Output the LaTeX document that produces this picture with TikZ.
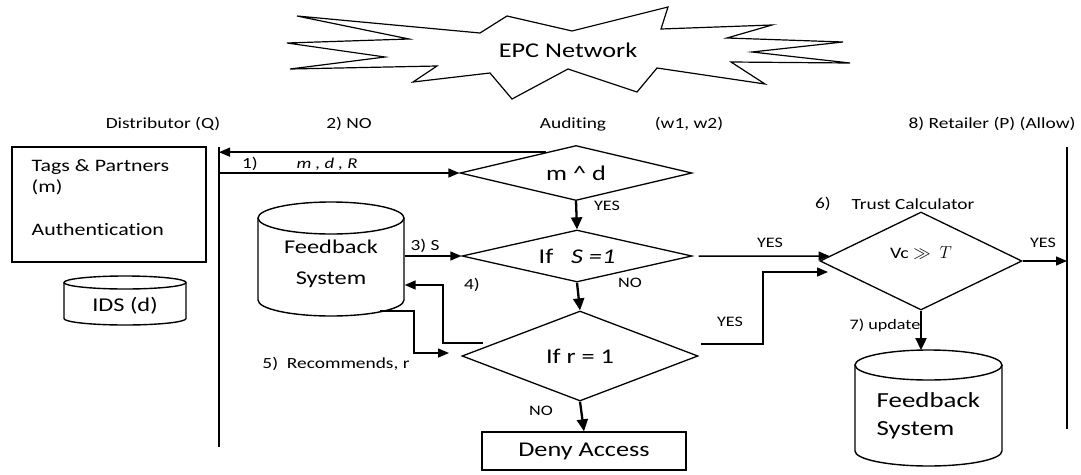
\documentclass[tikz,border=0pt]{standalone}
\usepackage{fontspec}
\setmainfont{Carlito}[FakeStretch=1.25,Ligatures={NoCommon,NoContextual}]
\usetikzlibrary{arrows.meta,shapes.geometric,calc}
\begin{document}
\begin{tikzpicture}[x=1pt,y=-1pt,line width=1.4pt,
  lab/.style={font=\fontsize{15.5}{18}\selectfont, inner sep=0},
  sml/.style={font=\fontsize{14.5}{17}\selectfont, inner sep=0},
  big/.style={font=\fontsize{21}{25}\selectfont, inner sep=0},
  dia/.style={diamond, draw, inner sep=0, line width=1.3pt, big},
  arr/.style={-{Triangle[length=11pt,width=9pt]}, line width=1.5pt},
  darr/.style={-{Triangle[length=12pt,width=11pt]}, line width=2.3pt},
  box/.style={draw, line width=1.4pt, inner sep=0}]
\useasboundingbox (0,0) rectangle (1081,474);

% EPC network explosion
\draw[line width=1.2pt] (297,16) -- (480,33) -- (507,16) -- (572,31) -- (668,7) -- (661,29)
  -- (772,25) -- (727,38) -- (843,42) -- (752,52) -- (850,63) -- (731,62) -- (765,84)
  -- (657,68) -- (637,92) -- (568,69) -- (512,99) -- (490,73) -- (413,82) -- (437,66)
  -- (290,69) -- (385,57) -- (287,43) -- (409,39) -- cycle;
\node[font=\fontsize{21}{25}\selectfont, inner sep=0] (epc) at (568,50) {EPC Network};

% header labels
\node[lab] (distq) at (163,124) {Distributor (Q)};
\node[lab] (no2) at (349,124) {2) NO};
\node[lab] (audit) at (573,124) {Auditing};
\node[lab] (w12) at (689,124) {(w1, w2)};
\node[lab] (retail) at (992,124) {8) Retailer (P) (Allow)};

% Tags box
\node[box, minimum width=194pt, minimum height=115pt] (tags) at (109,204.5) {};
\node[font=\fontsize{17.5}{21.5}\selectfont, inner sep=0, anchor=west, align=left] (tagstxt) at (31,197.5)
  {Tags \& Partners\\(m)\\[21.5pt]Authentication};

% IDS cylinder
\draw (64,282.5) -- (64,318.5) arc[start angle=180,end angle=0,x radius=61,y radius=6.5] -- (186,282.5);
\draw (125,282.5) ellipse[x radius=61, y radius=6.5];
\node[font=\fontsize{19.5}{23}\selectfont, inner sep=0] (ids) at (125,306) {IDS (d)};

% Distributor / retailer lines
\coordinate (qt) at (219,147);
\coordinate (qb) at (219,447);
\draw (qt) -- (qb);
\coordinate (pt) at (1067,147);
\coordinate (pb) at (1067,429);
\draw (pt) -- (pb);

% Feedback system 1
\draw (258,218) -- (258,300) arc[start angle=180,end angle=0,x radius=73,y radius=16] -- (404,218);
\draw (331,218) ellipse[x radius=73, y radius=16];
\node[font=\fontsize{19.5}{31}\selectfont, inner sep=0, minimum width=146pt, align=center] (fb1) at (331,264) {Feedback\\System};

% Feedback system 2
\draw (855,365) -- (855,451) arc[start angle=180,end angle=0,x radius=73.5,y radius=15] -- (1002,365);
\draw (928.5,365) ellipse[x radius=73.5, y radius=15];
\node[font=\fontsize{21.5}{28}\selectfont, inner sep=0, anchor=west, align=left] (fb2) at (876,416) {Feedback\\System};

% diamonds
\node[dia, minimum width=232pt, minimum height=55pt, aspect=4.2] (d1) at (576,173) {m \textasciicircum{} d};
\node[dia, minimum width=230pt, minimum height=52pt, aspect=4.4] (d2) at (577,256) {If\ \ \ \textit{S =1}};
\node[dia, minimum width=236pt, minimum height=90pt, aspect=2.6] (d3) at (580,356) {If r = 1};
\node[dia, minimum width=202pt, minimum height=98pt, aspect=2.06, font=\fontsize{16}{18}\selectfont,
  text height=10pt, text depth=16pt] (d4) at (921,261) {Vc $\gg$\ \ $T$};

% deny access
\node[box, big, minimum width=204pt, minimum height=38pt] (deny) at (584,451) {Deny Access};

% connectors
\coordinate (nostart) at ($(d1.north)!0.26!(d1.west)$);
\draw[arr] (nostart) -- (qt |- nostart);
\draw[arr] (qt |- d1.west) -- (d1.west);
\node[lab] (l1) at (250,164) {1)};
\node[lab, font=\fontsize{15}{18}\selectfont\itshape] (mdr) at (327,164) {m , d , R};

\draw[darr] (d1.south) -- (d2.north);
\node[sml] (yes1) at (607,206) {YES};

\draw[arr] (fb1.east |- d2.west) -- (d2.west);
\node[lab] (l3) at (425,246) {3) S};

\coordinate (c4) at (483,343);
\draw[arr] (c4) -- (443,343) -- (443,285) -- (fb1.east |- 0,285);
\node[lab] (l4) at (472,285) {4)};

\coordinate (c5) at (380,311);
\draw[arr] (c5) -- (414,311) -- (414,353) -- (449,353);
\node[lab] (l5) at (336,364) {5)\ \ Recommends, r};

\draw[darr] (d2.south) -- (d3.north);
\node[sml] (no1) at (630,283) {NO};

\draw[darr] (d3.south) -- (deny.north);
\node[sml] (no3) at (541,411) {NO};

\draw[arr] ($(d2.east)+(6,0)$) -- ($(d4.west)!0.1!(d4.north)$);
\node[sml] (yes2) at (770,243) {YES};

\coordinate (c6) at (701,344);
\draw[arr] (c6) -| (763,272) -- (828,272);
\node[sml] (yes3) at (730,322) {YES};

\node[lab] (l6) at (823,204) {6)};
\node[lab] (trust) at (913,204) {Trust Calculator};

\draw[arr] (d4.east) -- (pt |- d4.east);
\node[sml] (yes4) at (1043,243) {YES};

\draw[darr] (d4.south) -- (921,350);
\node[sml] (l7) at (885,325) {7) update};
\end{tikzpicture}
\end{document}
